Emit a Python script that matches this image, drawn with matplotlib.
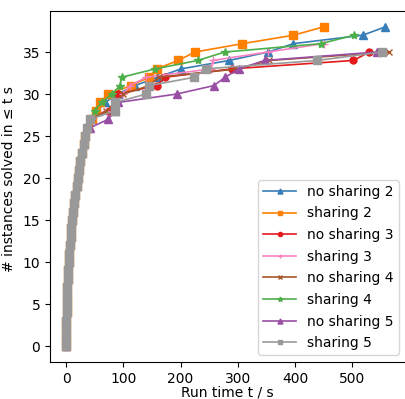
import matplotlib
matplotlib.use("Agg")
import matplotlib.pyplot as plt

# shared low part of every curve (time in s for 0, 1, 2, ... solved instances)
ramp = [0, 0, 0.6, 0.6, 1.2, 1.8, 2.3, 2.3, 2.9, 4.1, 4.7, 5.8, 7, 8.2,
        9.4, 11, 12.9, 14.6, 16.4, 18.7, 20.5, 22.2, 24.6, 27.5, 30.4, 33]

no_sharing_2 = ramp + [37, 42, 55, 68, 90, 120, 160, 201, 285, 353, 397, 518, 558]
sharing_2 = ramp + [38, 45, 52, 59, 74, 113, 145, 158, 196, 225, 308, 397, 450]
no_sharing_3 = ramp + [37, 44, 75, 85, 90, 158, 173, 290, 502, 530]
sharing_3 = ramp + [37, 45, 70, 88, 100, 112, 140, 254, 256, 352, 450]
no_sharing_4 = ramp + [36, 43, 70, 86, 100, 145, 162, 300, 355, 565]
sharing_4 = ramp + [36, 43, 50, 62, 80, 94, 97, 156, 230, 277, 445, 503]
no_sharing_5 = ramp + [42, 74, 85, 91, 193, 258, 278, 302, 347, 543]
sharing_5 = ramp + [36.4, 41.6, 85, 86, 140, 145, 224, 245, 439, 552]

series = [
    ("no sharing 2", no_sharing_2),
    ("sharing 2", sharing_2),
    ("no sharing 3", no_sharing_3),
    ("sharing 3", sharing_3),
    ("no sharing 4", no_sharing_4),
    ("sharing 4", sharing_4),
    ("no sharing 5", no_sharing_5),
    ("sharing 5", sharing_5),
]
colors = ["#377eb8", "#ff7f00", "#e41a1c", "#f781bf",
          "#a65628", "#4daf4a", "#984ea3", "#999999"]
markers = ["^", "s", "o", "+", "x", "*", "^", "s"]
msizes = [6, 6, 5, 6, 5, 6, 6, 6]

plt.rcParams["font.size"] = 10
fig = plt.figure(figsize=(4.06, 3.99), dpi=100)
ax = fig.add_axes([0.123, 0.0927, 0.876, 0.88])
for (label, times), c, m, ms in zip(series, colors, markers, msizes):
    ax.plot(times, range(len(times)), color=c, marker=m, ms=ms, lw=1.2,
            label=label)

ax.set_xlabel("Run time t / s", labelpad=0)
ax.set_ylabel("# instances solved in ≤ t s", labelpad=1)
ax.yaxis.set_label_coords(-0.095, 0.52)
ax.set_xticks([0, 100, 200, 300, 400, 500])
ax.set_yticks(range(0, 40, 5))
ax.legend(loc="lower right", fontsize=10, markerscale=0.6,
          handlelength=2.4, labelspacing=0.55, borderpad=0.35)
fig.savefig("out.png", dpi=100)
